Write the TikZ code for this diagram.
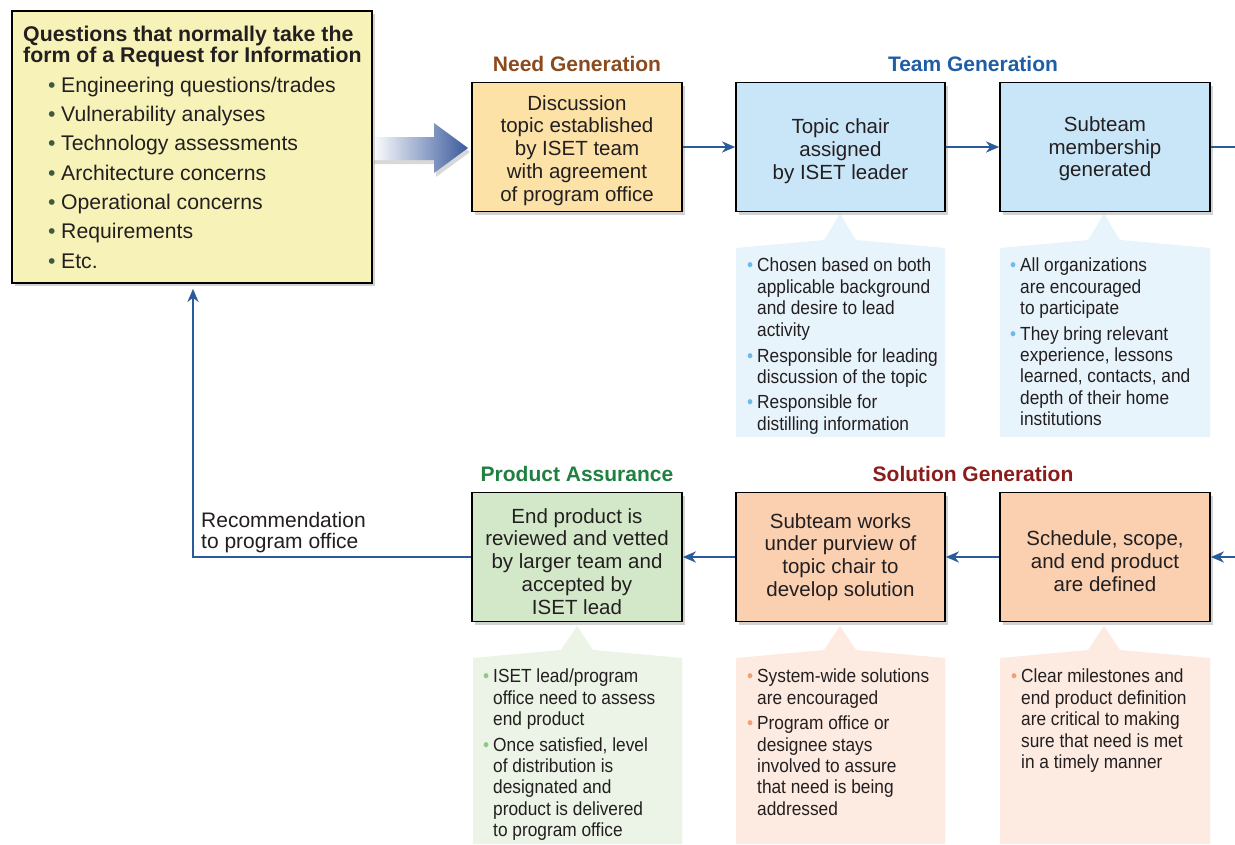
\documentclass[tikz,border=0pt]{standalone}
\usepackage{fontspec}
\setmainfont{Liberation Sans}
\newfontfamily\condfont[FakeStretch=0.91]{Liberation Sans}
\usetikzlibrary{shadows,arrows.meta}
\definecolor{txt}{HTML}{231F20}
\definecolor{connblue}{HTML}{2A5C9A}
\definecolor{arrowblue}{HTML}{3A5A9C}
\definecolor{rfiyellow}{HTML}{F7F3B8}
\definecolor{needfill}{HTML}{FDE2A8}
\definecolor{bluefill}{HTML}{C9E6F8}
\definecolor{greenfill}{HTML}{D3E8C9}
\definecolor{peachfill}{HTML}{FAD0B1}
\definecolor{cblue}{HTML}{E7F4FC}
\definecolor{cgreen}{HTML}{EBF4E6}
\definecolor{cpeach}{HTML}{FDEBE1}
\definecolor{bblue}{HTML}{6DBAE8}
\definecolor{bgreen}{HTML}{8CCB80}
\definecolor{bpeach}{HTML}{F2A073}
\definecolor{lbul}{HTML}{3F5A3C}
\definecolor{needttl}{HTML}{8C4B1E}
\definecolor{teamttl}{HTML}{1F5EA6}
\definecolor{prodttl}{HTML}{1F8040}
\definecolor{solttl}{HTML}{8A1C1C}
\newcommand\boxfont{\fontsize{20.5}{22.7}\selectfont}
\newcommand\ttlfont{\bfseries\fontsize{21}{24}\selectfont}
\newcommand\cfont{\condfont\fontsize{19}{21.4}\selectfont}
\newcommand\cbul[1]{\llap{\textcolor{#1}{\textbullet}\hspace{4pt}}}
\newcommand\lbul{\makebox[13pt][l]{\textcolor{lbul}{\textbullet}}}
\newcommand\tup[1]{\rule{0pt}{#1pt}}
\newcommand\calloutshape[7]{%
  \fill[#1] (#2,#4) -- (#6-16,#4-8) -- (#6,#7) -- (#6+16,#4-8) -- (#3,#4) -- (#3,#5) -- (#2,#5) -- cycle;}
\tikzset{
  box/.style={draw=black, line width=1.7pt, minimum width=210pt, minimum height=129pt,
    align=center, inner sep=0pt, text=txt, font=\boxfont,
    drop shadow={shadow xshift=3pt, shadow yshift=-3pt, opacity=0.35}},
  ttl/.style={font=\ttlfont, inner sep=0pt},
  conn/.style={draw=connblue, line width=2.4pt, -{Stealth[length=13pt,width=11pt,inset=4pt]}},
  plainline/.style={draw=connblue, line width=2.4pt},
  ctext/.style={anchor=north west, inner sep=0pt, align=left, font=\cfont, text=txt}
}
\begin{document}
\begin{tikzpicture}[x=1pt,y=-1pt]
\useasboundingbox (0,0) rectangle (1235,844);
\fill[white] (0,0) rectangle (1235,844);

% callout shapes
\calloutshape{cblue}{736}{945}{248}{437}{840}{214}
\calloutshape{cblue}{1000}{1210}{248}{437}{1104}{214}
\calloutshape{cgreen}{473}{682}{658}{844}{577}{626}
\calloutshape{cpeach}{736}{945}{658}{844}{840}{626}
\calloutshape{cpeach}{1000}{1210}{658}{844}{1104}{626}

% big gradient arrow
\shade[left color=white, right color=arrowblue,
  drop shadow={shadow xshift=2pt, shadow yshift=-4pt, opacity=0.3}]
  (372,137) -- (434,137) -- (434,123) -- (468,148) -- (434,173) -- (434,160) -- (372,160) -- cycle;

% left box
\node[draw=black, line width=1.7pt, fill=rfiyellow, minimum width=360pt, minimum height=272pt,
  inner sep=0pt, drop shadow={shadow xshift=3pt, shadow yshift=-3pt, opacity=0.35}]
  (rfi) at (192,147) {};
\node[anchor=north west, inner sep=0pt, align=left, text=txt,
  font=\bfseries\fontsize{21.3}{20.5}\selectfont] (rfititle) at (23,26)
  {Questions that normally take the\\form of a Request for Information};
\node[anchor=north west, inner sep=0pt, align=left, text=txt,
  font=\fontsize{21.2}{29.35}\selectfont] (rfilist) at (48,76.5)
  {\lbul Engineering questions/trades\\
   \lbul Vulnerability analyses\\
   \lbul Technology assessments\\
   \lbul Architecture concerns\\
   \lbul Operational concerns\\
   \lbul Requirements\\
   \lbul Etc.};

% titles
\node[ttl, text=needttl] (tneed) at (577,64) {Need Generation};
\node[ttl, text=teamttl] (tteam) at (973,64) {Team Generation};
\node[ttl, text=prodttl] (tprod) at (577,474) {Product Assurance};
\node[ttl, text=solttl] (tsol) at (973,474) {Solution Generation};

% process boxes
\node[box, fill=needfill] (need) at (577,147)
  {\tup{21.5}Discussion\\topic established\\by ISET team\\with agreement\\of program office};
\node[box, fill=bluefill, minimum width=209pt] (chair) at (840.5,147)
  {\tup{23.5}Topic chair\\assigned\\by ISET leader};
\node[box, fill=bluefill] (sub) at (1105,147)
  {\tup{18.5}Subteam\\membership\\generated};
\node[box, fill=greenfill] (ep) at (577,557)
  {\tup{23.5}End product is\\reviewed and vetted\\by larger team and\\accepted by\\ISET lead};
\node[box, fill=peachfill, minimum width=209pt] (sw) at (840.5,557)
  {Subteam works\\under purview of\\topic chair to\\develop solution};
\node[box, fill=peachfill] (sched) at (1105,557)
  {\tup{23.5}Schedule, scope,\\and end product\\are defined};

% callout texts
\node[ctext] (cchair) at (757,258)
  {\cbul{bblue}Chosen based on both\\applicable background\\and desire to lead\\activity\\[4.5pt]
   \cbul{bblue}Responsible for leading\\discussion of the topic\\[4pt]
   \cbul{bblue}Responsible for\\distilling information};
\node[ctext] (csub) at (1020,258)
  {\cbul{bblue}All organizations\\are encouraged\\to participate\\[4pt]
   \cbul{bblue}They bring relevant\\experience, lessons\\learned, contacts, and\\depth of their home\\institutions};
\node[ctext] (cep) at (493,669)
  {\cbul{bgreen}ISET lead/program\\office need to assess\\end product\\[4pt]
   \cbul{bgreen}Once satisfied, level\\of distribution is\\designated and\\product is delivered\\to program office};
\node[ctext] (csw) at (757,669)
  {\cbul{bpeach}System-wide solutions\\are encouraged\\[4pt]
   \cbul{bpeach}Program office or\\designee stays\\involved to assure\\that need is being\\addressed};
\node[ctext] (csched) at (1021,669)
  {\cbul{bpeach}Clear milestones and\\end product definition\\are critical to making\\sure that need is met\\in a timely manner};

% connectors
\coordinate (outT) at (1235,147);
\coordinate (inB) at (1235,557);
\coordinate (ret) at (193,557);
\draw[conn] (need.east) -- (chair.west);
\draw[conn] (chair.east) -- (sub.west);
\draw[plainline] (sub.east) -- (outT);
\draw[conn] (inB) -- (sched.east);
\draw[conn] (sched.west) -- (sw.east);
\draw[conn] (sw.west) -- (ep.east);
\draw[conn, shorten >=5pt] (ep.west) -- (ret) -- (rfi.south -| ret);

\node[anchor=north west, inner sep=0pt, align=left, text=txt,
  font=\fontsize{21}{21}\selectfont] (rec) at (201,512)
  {Recommendation\\to program office};
\end{tikzpicture}
\end{document}
